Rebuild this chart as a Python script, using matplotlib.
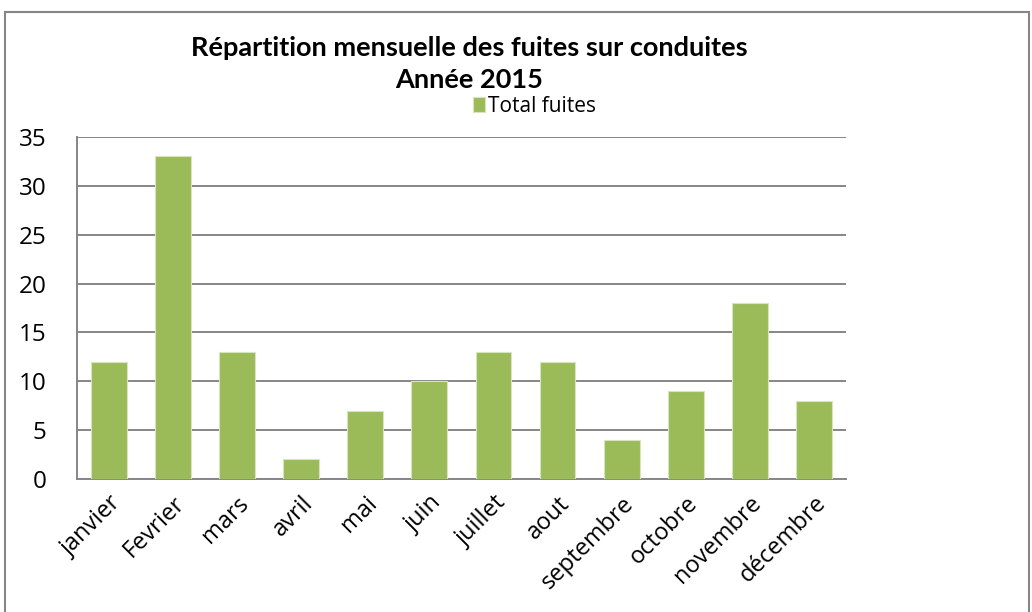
import matplotlib.pyplot as plt
from matplotlib.patches import Rectangle

# data
mois = ['janvier', 'Fevrier', 'mars', 'avril', 'mai', 'juin', 'juillet',
        'aout', 'septembre', 'octobre', 'novembre', 'décembre']
total_fuites = [12, 33, 13, 2, 7, 10, 13, 12, 4, 9, 18, 8]
yticks = [0, 5, 10, 15, 20, 25, 30, 35]

plt.rcParams['font.family'] = ['Open Sans', 'DejaVu Sans']

fig = plt.figure(figsize=(10.32, 6.12), dpi=100)
ax = fig.add_axes([0.0746, 0.2173, 0.745, 0.559])

x = range(len(mois))
ax.bar(x, total_fuites, width=0.56, color='#9BBB59', edgecolor='#D7E4BD',
       linewidth=0.8, label='Total fuites', zorder=3)

ax.set_ylim(0, 35)
ax.set_xlim(-0.5, len(mois) - 0.5)
ax.set_yticks(yticks)
ax.set_yticklabels([str(v) for v in yticks], fontsize=17.5)
ax.set_xticks(list(x))
ax.set_xticklabels(mois, rotation=45, ha='right', rotation_mode='anchor',
                   fontsize=17)
ax.tick_params(axis='y', length=0, pad=22)
ax.tick_params(axis='x', length=0, pad=9)

ax.yaxis.grid(True, color='#868686', linewidth=1.4, zorder=0)
ax.set_axisbelow(True)
for s in ['top', 'right']:
    ax.spines[s].set_visible(False)
for s in ['left', 'bottom']:
    ax.spines[s].set_color('#868686')
    ax.spines[s].set_linewidth(1.4)

fig.text(0.455, 0.922, 'Répartition mensuelle des fuites sur conduites',
         ha='center', va='center', fontsize=19.5, fontweight='bold',
         family=['Lato', 'DejaVu Sans'])
fig.text(0.455, 0.869, 'Année 2015', ha='center', va='center', fontsize=19.5,
         fontweight='bold', family=['Lato', 'DejaVu Sans'])

ax.legend(loc='center', bbox_to_anchor=(0.595, 1.09), frameon=False,
          fontsize=15, handlelength=0.6, handleheight=0.7, handletextpad=0.15,
          borderpad=0)

# outer chart border
fig.patches.append(Rectangle((5 / 1032, -0.05), 1024 / 1032, 1 - 12 / 612 + 0.05,
                             transform=fig.transFigure, fill=False,
                             edgecolor='#868686', linewidth=1.5))

fig.savefig('out.png', dpi=100)
